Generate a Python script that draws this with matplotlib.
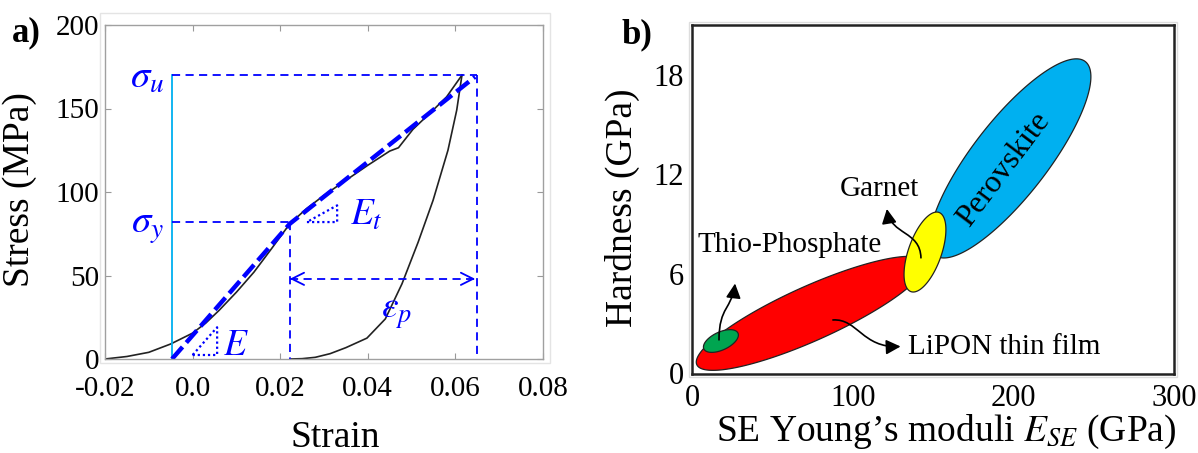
import numpy as np
import matplotlib
matplotlib.use('Agg')
import matplotlib.pyplot as plt
from matplotlib.patches import FancyArrowPatch, Rectangle
from matplotlib.path import Path

plt.rcParams['font.family'] = ['Liberation Serif', 'DejaVu Serif']
plt.rcParams['mathtext.fontset'] = 'stix'

# ---- panel a: stress-strain data ----
load_strain = [-0.02, -0.015, -0.01, -0.005, 0.0, 0.003, 0.006, 0.01, 0.014, 0.018, 0.0222,
               0.026, 0.03, 0.035, 0.04, 0.045, 0.0465, 0.047, 0.0503, 0.0549, 0.058, 0.0615]
load_stress = [0, 1.5, 4, 9, 15.5, 21.5, 29, 40, 52, 66, 81,
               90, 98, 107, 116, 124.5, 126, 126.5, 137.5, 149, 157, 170]
unload_strain = [0.0222, 0.025, 0.028, 0.0314, 0.035, 0.0398, 0.044, 0.0478, 0.0515, 0.0549, 0.0583, 0.0603, 0.0615]
unload_stress = [0, 0.2, 1.0, 3.2, 6.8, 12.5, 24, 45, 70, 95, 125, 149, 170]
fit_strain = [-0.0047, 0.0222, 0.0645]
fit_stress = [0, 81, 169]
eps0 = -0.0047
eps_y, sig_y = 0.0222, 82
eps_u, sig_u = 0.065, 170
eps_arrow_y = 48
tri_E = ([0.0, 0.0056, 0.0056, 0.0], [2.4, 2.4, 19, 2.4])
tri_Et = ([0.0261, 0.033, 0.033, 0.0261], [82, 82, 92, 82])

# ---- panel b: material regions (centre, half-axis vectors) ----
regions = {
    'LiPON':      dict(c=(74, 3.6),   a=(71, 3.1),   b=(6.9, -1.49),  color='#ff0000'),
    'Thio':       dict(c=(18, 1.93),  a=(10.6, 0.48), b=(2.4, -0.49), color='#00a550'),
    'Perovskite': dict(c=(198, 12.95), a=(46.7, 5.85), b=(18.6, -1.37), color='#00b0f0'),
    'Garnet':     dict(c=(145, 7.3),  a=(8.7, 2.39), b=(9.7, -0.33),  color='#ffff00'),
}
draw_order = ['Perovskite', 'LiPON', 'Thio', 'Garnet']

arrows_b = [
    [(16.8, 2.0), (16.8, 4.0), (25, 3.9), (26.8, 5.4)],
    [(142.5, 6.95), (142, 8.6), (124, 8.3), (121.3, 9.9)],
    [(87.7, 3.2), (103, 3.3), (106, 1.5), (129.8, 1.6)],
]

fig = plt.figure(figsize=(11.98, 4.53), dpi=100)

# faint outer frames
fig.patches.append(Rectangle((100/1198, 1-363/453), 450/1198, 350/453, transform=fig.transFigure,
                             fill=False, ec='#e4e4e4', lw=1))
fig.patches.append(Rectangle((689/1198, 1-377/453), 488/1198, 355/453, transform=fig.transFigure,
                             fill=False, ec='#dddddd', lw=1))

# ================= a) =================
ax = fig.add_axes([105/1198, 1-359/453, 438/1198, 334/453])
blue = '#0000ff'
ax.plot(load_strain, load_stress, color='#222222', lw=1.2)
ax.plot(unload_strain, unload_stress, color='#222222', lw=1.2)
ax.plot([eps0, eps0], [0, sig_u], color='#00b0f0', lw=1.3)
thin = dict(color=blue, lw=1.3, ls=(0, (4.5, 3)))
ax.plot([eps0, eps_u], [sig_u, sig_u], **thin)
ax.plot([eps_u, eps_u], [sig_u, 0], **thin)
ax.plot([eps0, eps_y], [sig_y, sig_y], **thin)
ax.plot([eps_y, eps_y], [sig_y, 0], **thin)
ax.plot([eps_y, eps_u], [eps_arrow_y, eps_arrow_y], **thin)
for tip, tail in [(eps_y, eps_y + 0.001), (eps_u - 0.0005, eps_u - 0.0015)]:
    ax.annotate('', xy=(tip, eps_arrow_y), xytext=(tail, eps_arrow_y),
                arrowprops=dict(arrowstyle='->', color=blue, lw=1.3, mutation_scale=22,
                                shrinkA=0, shrinkB=0))
ax.plot(fit_strain, fit_stress, color=blue, lw=3.2, ls=(0, (3.6, 1.3)))
ax.plot(*tri_E, color=blue, lw=1.6, ls=(0, (1, 1.3)))
ax.plot(*tri_Et, color=blue, lw=1.6, ls=(0, (1, 1.3)))

ax.text(-0.0065, 168, r'$\sigma_u$', color=blue, fontsize=28, ha='right', va='center')
ax.text(-0.0065, 79, r'$\sigma_y$', color=blue, fontsize=28, ha='right', va='center')
ax.text(0.0069, 8, r'$E$', color=blue, fontsize=27, ha='left', va='center')
ax.text(0.036, 86, r'$E_t$', color=blue, fontsize=27, ha='left', va='center')
ax.text(0.0465, 27, r'$\varepsilon_p$', color=blue, fontsize=27, ha='center', va='center')

ax.set_xlim(-0.02, 0.08)
ax.set_ylim(0, 200)
ax.set_xticks([-0.02, 0.0, 0.02, 0.04, 0.06, 0.08])
ax.set_xticklabels(['-0.02', '0.0', '0.02', '0.04', '0.06', '0.08'])
ax.set_yticks([0, 50, 100, 150, 200])
ax.tick_params(direction='in', length=4, color='#999999', labelsize=21, top=True, right=True)
ax.tick_params(axis='x', pad=12)
ax.tick_params(axis='y', pad=4)
for s in ax.spines.values():
    s.set_color('#a0a0a0')
    s.set_linewidth(1)
ax.set_xlabel('Strain', fontsize=27)
ax.xaxis.set_label_coords(0.525, -0.185)
ax.set_ylabel('Stress (MPa)', fontsize=27)
ax.yaxis.set_label_coords(-0.155, 0.506)
fig.text(12/1198, 1-33/453, 'a)', fontsize=25, fontweight='bold', va='center', ha='left')

# ================= b) =================
bx = fig.add_axes([692/1198, 1-374/453, 482/1198, 349/453])
t = np.linspace(0, 2*np.pi, 300)
for name in draw_order:
    r = regions[name]
    xs = r['c'][0] + r['a'][0]*np.cos(t) + r['b'][0]*np.sin(t)
    ys = r['c'][1] + r['a'][1]*np.cos(t) + r['b'][1]*np.sin(t)
    bx.fill(xs, ys, facecolor=r['color'], edgecolor='#222222', lw=0.9)

for pts in arrows_b:
    p = Path(pts, [Path.MOVETO, Path.CURVE4, Path.CURVE4, Path.CURVE4])
    bx.add_patch(FancyArrowPatch(path=p, arrowstyle='-|>,head_length=0.55,head_width=0.28',
                                 mutation_scale=16, color='black', lw=1.2))

bx.text(3.7, 7.7, 'Thio-Phosphate', fontsize=21, ha='left', va='center')
bx.text(92, 11.1, 'Garnet', fontsize=21, ha='left', va='center')
bx.text(134.5, 1.57, 'LiPON thin film', fontsize=21, ha='left', va='center')
bx.text(194, 12.3, 'Perovskite', fontsize=23, ha='center', va='center', rotation=53)

bx.set_xlim(0, 300)
bx.set_ylim(-0.06, 21.0)
bx.set_xticks([0, 100, 200, 300])
bx.set_yticks([0, 6, 12, 18])
bx.tick_params(length=0, labelsize=22)
bx.tick_params(axis='x', pad=7)
bx.tick_params(axis='y', pad=6)
for s in bx.spines.values():
    s.set_color('#222222')
    s.set_linewidth(1.8)
bx.set_xlabel(r"SE Young’s moduli $E_{SE}$ (GPa)", fontsize=27)
bx.xaxis.set_label_coords(0.527, -0.112)
bx.set_ylabel('Hardness (GPa)', fontsize=27)
bx.yaxis.set_label_coords(-0.108, 0.476)
fig.text(621/1198, 1-35/453, 'b)', fontsize=25, fontweight='bold', va='center', ha='left')

fig.savefig('out.png', dpi=100)
